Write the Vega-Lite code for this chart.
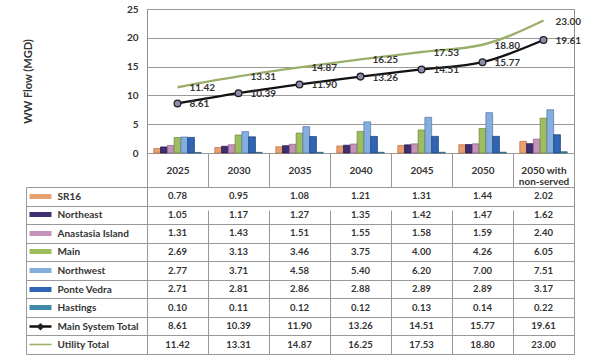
{
  "$schema": "https://vega.github.io/schema/vega-lite/v6.json",
  "width": 427,
  "height": 345,
  "autosize": {"type": "none"},
  "padding": {"left": 147, "top": 9, "right": 23, "bottom": 2},
  "background": "white",
  "config": {
    "font": "Lato",
    "view": {"stroke": "#8f8f8f", "strokeWidth": 1},
    "axis": {"labelFontWeight": "bold", "titleFontWeight": "bold", "labelColor": "#333", "titleColor": "#333"}
  },
  "data": {"values": [
    {"cat": "2025", "series": "SR16", "value": 0.78},
    {"cat": "2030", "series": "SR16", "value": 0.95},
    {"cat": "2035", "series": "SR16", "value": 1.08},
    {"cat": "2040", "series": "SR16", "value": 1.21},
    {"cat": "2045", "series": "SR16", "value": 1.31},
    {"cat": "2050", "series": "SR16", "value": 1.44},
    {"cat": "2050 with non-served", "series": "SR16", "value": 2.02},
    {"cat": "2025", "series": "Northeast", "value": 1.05},
    {"cat": "2030", "series": "Northeast", "value": 1.17},
    {"cat": "2035", "series": "Northeast", "value": 1.27},
    {"cat": "2040", "series": "Northeast", "value": 1.35},
    {"cat": "2045", "series": "Northeast", "value": 1.42},
    {"cat": "2050", "series": "Northeast", "value": 1.47},
    {"cat": "2050 with non-served", "series": "Northeast", "value": 1.62},
    {"cat": "2025", "series": "Anastasia Island", "value": 1.31},
    {"cat": "2030", "series": "Anastasia Island", "value": 1.43},
    {"cat": "2035", "series": "Anastasia Island", "value": 1.51},
    {"cat": "2040", "series": "Anastasia Island", "value": 1.55},
    {"cat": "2045", "series": "Anastasia Island", "value": 1.58},
    {"cat": "2050", "series": "Anastasia Island", "value": 1.59},
    {"cat": "2050 with non-served", "series": "Anastasia Island", "value": 2.40},
    {"cat": "2025", "series": "Main", "value": 2.69},
    {"cat": "2030", "series": "Main", "value": 3.13},
    {"cat": "2035", "series": "Main", "value": 3.46},
    {"cat": "2040", "series": "Main", "value": 3.75},
    {"cat": "2045", "series": "Main", "value": 4.00},
    {"cat": "2050", "series": "Main", "value": 4.26},
    {"cat": "2050 with non-served", "series": "Main", "value": 6.05},
    {"cat": "2025", "series": "Northwest", "value": 2.77},
    {"cat": "2030", "series": "Northwest", "value": 3.71},
    {"cat": "2035", "series": "Northwest", "value": 4.58},
    {"cat": "2040", "series": "Northwest", "value": 5.40},
    {"cat": "2045", "series": "Northwest", "value": 6.20},
    {"cat": "2050", "series": "Northwest", "value": 7.00},
    {"cat": "2050 with non-served", "series": "Northwest", "value": 7.51},
    {"cat": "2025", "series": "Ponte Vedra", "value": 2.71},
    {"cat": "2030", "series": "Ponte Vedra", "value": 2.81},
    {"cat": "2035", "series": "Ponte Vedra", "value": 2.86},
    {"cat": "2040", "series": "Ponte Vedra", "value": 2.88},
    {"cat": "2045", "series": "Ponte Vedra", "value": 2.89},
    {"cat": "2050", "series": "Ponte Vedra", "value": 2.89},
    {"cat": "2050 with non-served", "series": "Ponte Vedra", "value": 3.17},
    {"cat": "2025", "series": "Hastings", "value": 0.10},
    {"cat": "2030", "series": "Hastings", "value": 0.11},
    {"cat": "2035", "series": "Hastings", "value": 0.12},
    {"cat": "2040", "series": "Hastings", "value": 0.12},
    {"cat": "2045", "series": "Hastings", "value": 0.13},
    {"cat": "2050", "series": "Hastings", "value": 0.14},
    {"cat": "2050 with non-served", "series": "Hastings", "value": 0.22},
    {"cat": "2025", "series": "Main System Total", "value": 8.61},
    {"cat": "2030", "series": "Main System Total", "value": 10.39},
    {"cat": "2035", "series": "Main System Total", "value": 11.90},
    {"cat": "2040", "series": "Main System Total", "value": 13.26},
    {"cat": "2045", "series": "Main System Total", "value": 14.51},
    {"cat": "2050", "series": "Main System Total", "value": 15.77},
    {"cat": "2050 with non-served", "series": "Main System Total", "value": 19.61},
    {"cat": "2025", "series": "Utility Total", "value": 11.42},
    {"cat": "2030", "series": "Utility Total", "value": 13.31},
    {"cat": "2035", "series": "Utility Total", "value": 14.87},
    {"cat": "2040", "series": "Utility Total", "value": 16.25},
    {"cat": "2045", "series": "Utility Total", "value": 17.53},
    {"cat": "2050", "series": "Utility Total", "value": 18.80},
    {"cat": "2050 with non-served", "series": "Utility Total", "value": 23.00}
  ]},
  "layer": [
    {
      "layer": [
        {
          "transform": [{"filter": "datum.series !== 'Main System Total' && datum.series !== 'Utility Total'"}],
          "mark": {"type": "bar", "strokeWidth": 0.7},
          "encoding": {
            "x": {
              "field": "cat", "type": "nominal", "title": null,
              "scale": {"domain": ["2025", "2030", "2035", "2040", "2045", "2050", "2050 with non-served"], "paddingInner": 0, "paddingOuter": 0},
              "axis": {
                "orient": "bottom", "offset": -201, "tickBand": "extent", "ticks": true, "tickSize": 34, "tickColor": "#999",
                "domain": false, "grid": true, "gridColor": "#999", "labelAngle": 0,
                "labelBaseline": "middle", "labelPadding": -17, "labelFontWeight": "bold", "labelFontSize": 10,
                "labelColor": "#333", "labelLineHeight": 11, "labelOverlap": false,
                "labelExpr": "datum.value === '2050 with non-served' ? ['2050 with', 'non-served'] : datum.label"
              }
            },
            "xOffset": {"field": "series", "type": "nominal",
              "scale": {"domain": ["SR16", "Northeast", "Anastasia Island", "Main", "Northwest", "Ponte Vedra", "Hastings"], "paddingInner": 0, "paddingOuter": 1.42}},
            "y": {
              "field": "value", "type": "quantitative",
              "scale": {"domain": [0, 25], "range": [144, 0], "nice": false},
              "axis": {
                "title": "WW Flow (MGD)", "values": [0, 5, 10, 15, 20, 25], "domain": false, "ticks": false, "tickSize": 0,
                "labelPadding": 9, "labelFontWeight": "bold", "labelFontSize": 10, "labelColor": "#333",
                "grid": true, "gridColor": "#999", "titleFontWeight": "bold", "titleFontSize": 11, "titleColor": "#333", "titlePadding": 93
              }
            },
            "color": {"field": "series", "type": "nominal", "legend": null,
              "scale": {"domain": ["SR16", "Northeast", "Anastasia Island", "Main", "Northwest", "Ponte Vedra", "Hastings"],
                "range": ["#E8A071", "#3E2F73", "#C592BA", "#9DBD5E", "#85ADDD", "#2F65B2", "#3F89AA"]}},
            "stroke": {"field": "series", "type": "nominal", "legend": null,
              "scale": {"domain": ["SR16", "Northeast", "Anastasia Island", "Main", "Northwest", "Ponte Vedra", "Hastings"],
                "range": ["#B8703F", "#221648", "#8E5A84", "#6C8A35", "#4F77A8", "#1B3F78", "#225C77"]}}
          }
        },
        {
          "transform": [{"filter": "datum.series === 'Utility Total'"}],
          "mark": {"type": "line", "color": "#9BAF6B", "strokeWidth": 2.4, "interpolate": "monotone"},
          "encoding": {
            "x": {"field": "cat", "type": "nominal", "title": null},
            "y": {"field": "value", "type": "quantitative", "title": "WW Flow (MGD)"}
          }
        },
        {
          "transform": [{"filter": "datum.series === 'Main System Total'"}],
          "mark": {"type": "line", "color": "#111", "strokeWidth": 2.3, "interpolate": "monotone"},
          "encoding": {
            "x": {"field": "cat", "type": "nominal", "title": null},
            "y": {"field": "value", "type": "quantitative", "title": "WW Flow (MGD)"}
          }
        },
        {
          "transform": [{"filter": "datum.series === 'Main System Total'"}],
          "mark": {"type": "point", "filled": true, "fill": "#8A8DAE", "stroke": "#222", "strokeWidth": 1.3, "size": 45, "opacity": 1},
          "encoding": {
            "x": {"field": "cat", "type": "nominal", "title": null},
            "y": {"field": "value", "type": "quantitative", "title": "WW Flow (MGD)"}
          }
        },
        {
          "transform": [{"filter": "datum.series === 'Main System Total' || datum.series === 'Utility Total'"}],
          "mark": {"type": "text", "align": "left", "baseline": "middle", "dx": 12, "dy": 1, "fontWeight": "bold", "fontSize": 10, "color": "#333"},
          "encoding": {
            "x": {"field": "cat", "type": "nominal", "title": null},
            "y": {"field": "value", "type": "quantitative", "title": "WW Flow (MGD)"},
            "text": {"field": "value", "type": "quantitative", "format": ".2f"}
          }
        }
      ]
    },
    {
      "layer": [
        {
          "mark": {"type": "text", "fontWeight": "bold", "fontSize": 9.5, "color": "#333", "baseline": "middle"},
          "encoding": {
            "x": {"field": "cat", "type": "nominal", "title": null},
            "y": {
              "field": "series", "type": "nominal", "title": null,
              "scale": {"domain": ["SR16", "Northeast", "Anastasia Island", "Main", "Northwest", "Ponte Vedra", "Hastings", "Main System Total", "Utility Total"],
                "range": [178, 345], "paddingInner": 0, "paddingOuter": 0},
              "axis": {
                "orient": "left", "tickBand": "extent", "ticks": true, "tickSize": 121, "tickColor": "#999",
                "grid": true, "gridColor": "#999", "domain": false, "labelAlign": "left", "labelBaseline": "middle",
                "labelPadding": -31, "labelFontWeight": "bold", "labelFontSize": 10, "labelColor": "#333",
                "labelLimit": 200, "labelOverlap": false
              }
            },
            "text": {"field": "value", "type": "quantitative", "format": ".2f"}
          }
        },
        {
          "mark": {"type": "text", "text": ""},
          "encoding": {
            "y": {
              "field": "series", "type": "nominal", "title": null,
              "axis": {"orient": "left", "offset": 121, "domain": true, "domainColor": "#999", "ticks": false, "labels": false, "grid": false}
            }
          }
        },
        {
          "mark": {"type": "text", "text": ""},
          "encoding": {
            "y": {
              "field": "series", "type": "nominal", "title": null,
              "axis": {
                "orient": "left", "offset": 96, "domain": false, "grid": false, "ticks": true, "tickSize": 22, "tickCap": "butt",
                "tickWidth": {"condition": [
                  {"test": "datum.value === 'Main System Total'", "value": 2.5},
                  {"test": "datum.value === 'Utility Total'", "value": 1.6}
                ], "value": 5},
                "tickColor": {"condition": [
                  {"test": "datum.value === 'SR16'", "value": "#E8A071"},
                  {"test": "datum.value === 'Northeast'", "value": "#3E2F73"},
                  {"test": "datum.value === 'Anastasia Island'", "value": "#C592BA"},
                  {"test": "datum.value === 'Main'", "value": "#9DBD5E"},
                  {"test": "datum.value === 'Northwest'", "value": "#85ADDD"},
                  {"test": "datum.value === 'Ponte Vedra'", "value": "#2F65B2"},
                  {"test": "datum.value === 'Hastings'", "value": "#3F89AA"},
                  {"test": "datum.value === 'Utility Total'", "value": "#9BAF6B"}
                ], "value": "#111"},
                "labelExpr": "datum.value === 'Main System Total' ? '◆' : ''",
                "labelAlign": "center", "labelBaseline": "middle", "labelPadding": -11, "labelFontSize": 9, "labelColor": "#222",
                "labelOverlap": false
              }
            }
          }
        }
      ],
      "resolve": {"axis": {"y": "independent"}}
    }
  ],
  "resolve": {"scale": {"y": "independent"}}
}
